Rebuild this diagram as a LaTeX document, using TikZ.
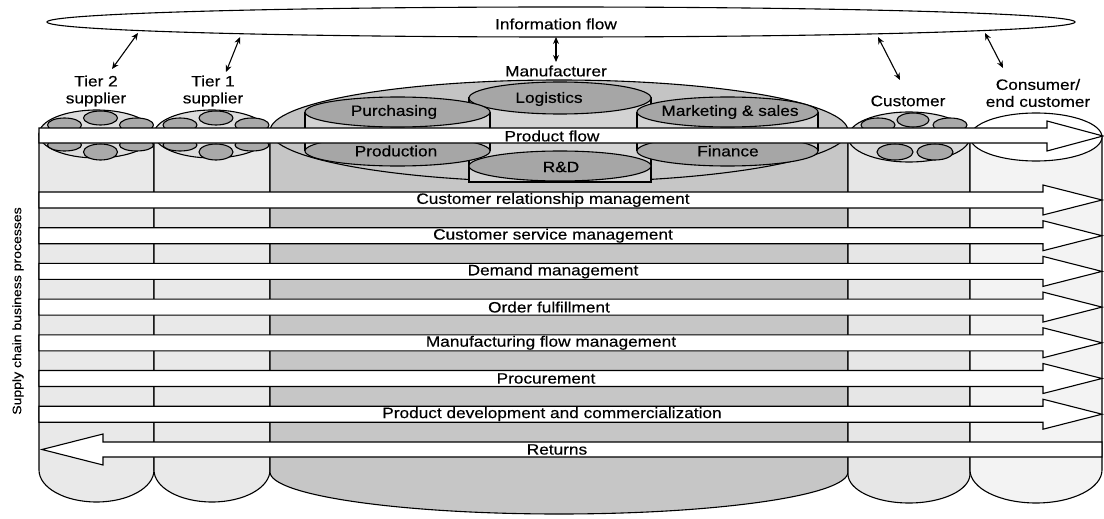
\documentclass[tikz,border=0pt]{standalone}
\usepackage{fontspec}
\setmainfont{Liberation Sans}[FakeStretch=1.15,FakeBold=0.4]
\usetikzlibrary{arrows.meta}
\definecolor{tierbody}{HTML}{E9E9E9}
\definecolor{tiertop}{HTML}{DDDDDD}
\definecolor{small}{HTML}{A9A9A9}
\definecolor{mfrbody}{HTML}{C6C6C6}
\definecolor{mfrtop}{HTML}{C4C4C4}
\definecolor{inner}{HTML}{A6A6A6}
\definecolor{innerbody}{HTML}{D3D3D3}
\definecolor{custbody}{HTML}{E6E6E6}
\definecolor{custtop}{HTML}{DADADA}
\definecolor{consbody}{HTML}{F3F3F3}
\begin{document}
\begin{tikzpicture}[x=1pt,y=-1pt,line width=1.1pt,
  lbl/.style={font=\fontsize{15}{17}\selectfont,inner sep=0pt,align=center},
  biarrow/.style={{Stealth[length=7pt,width=6pt]}-{Stealth[length=7pt,width=6pt]},line width=1.1pt},
  band/.style={draw,fill=white,line width=1.1pt}]
\useasboundingbox (0,0) rectangle (1104,519);

% information flow
\draw[fill=white] (561,22) ellipse[x radius=514,y radius=15];

% column bodies
\draw[fill=tierbody] (39,134) -- (39,470) arc[start angle=180,end angle=0,x radius=57.5,y radius=32] -- (154,134) -- cycle;
\draw[fill=tierbody] (154,134) -- (154,470) arc[start angle=180,end angle=0,x radius=58,y radius=32] -- (270,134) -- cycle;
\draw[fill=mfrbody] (270,131) -- (270,472) arc[start angle=180,end angle=0,x radius=289,y radius=42] -- (848,131) -- cycle;
\draw[fill=custbody] (848,137) -- (848,474) arc[start angle=180,end angle=0,x radius=61,y radius=29] -- (970,137) -- cycle;
\draw[fill=consbody] (970,137) -- (970,470) arc[start angle=180,end angle=0,x radius=66,y radius=33] -- (1102,137) -- cycle;

% top faces
\draw[fill=tiertop] (96.5,134) ellipse[x radius=57.5,y radius=24];
\draw[fill=tiertop] (212,134) ellipse[x radius=58,y radius=24];
\draw[fill=mfrtop] (559,131) ellipse[x radius=289,y radius=51];
\draw[fill=custtop] (909,137) ellipse[x radius=61,y radius=25];
\draw[fill=white] (1036,137) ellipse[x radius=66,y radius=24];

% small ellipses of the suppliers
\foreach \c in {96.5,212}{
  \draw[fill=small] (\c-32,125) ellipse[x radius=17,y radius=7];
  \draw[fill=small] (\c+40,125) ellipse[x radius=17,y radius=7];
  \draw[fill=small] (\c+4,118) ellipse[x radius=17,y radius=7];
  \draw[fill=small] (\c-32,145) ellipse[x radius=17,y radius=6];
  \draw[fill=small] (\c+40,145) ellipse[x radius=17,y radius=6];
  \draw[fill=small] (\c+4,152) ellipse[x radius=17,y radius=8];
}
% small ellipses of the customer
\draw[fill=small] (878,125) ellipse[x radius=17,y radius=7];
\draw[fill=small] (950,125) ellipse[x radius=17,y radius=7];
\draw[fill=small] (913,120) ellipse[x radius=16,y radius=7];
\draw[fill=small] (895,152) ellipse[x radius=18,y radius=8];
\draw[fill=small] (935,152) ellipse[x radius=18,y radius=8];

% manufacturer functions
\draw[fill=innerbody] (469,98) -- (469,166) -- (651,166) -- (651,98) -- cycle;
\draw[fill=innerbody] (469,166) -- (469,182) -- (651,182) -- (651,166);
\draw[fill=inner] (560,166) ellipse[x radius=91,y radius=15];
\draw[fill=inner] (560,98) ellipse[x radius=91,y radius=16];

\fill[innerbody] (305,112) rectangle (490,151);
\draw (305,112) -- (305,151) (490,112) -- (490,151);
\draw[fill=inner] (397.5,151) ellipse[x radius=92.5,y radius=15];
\draw[fill=inner] (397.5,112) ellipse[x radius=92.5,y radius=15];

\fill[innerbody] (637,112) rectangle (818,151);
\draw (637,112) -- (637,151) (818,112) -- (818,151);
\draw[fill=inner] (727.5,151) ellipse[x radius=90.5,y radius=15];
\draw[fill=inner] (727.5,112) ellipse[x radius=90.5,y radius=15];

% product flow
\draw[band] (39,128) -- (1047,128) -- (1047,121) -- (1103,136) -- (1047,151) -- (1047,143) -- (39,143) -- cycle;

% process arrows
\foreach \t in {192,227.7,263.4,299.1,334.8,370.5,406.2}{
  \draw[band] (39,\t) -- (1043,\t) -- (1043,\t-7) -- (1102,\t+8) -- (1043,\t+23) -- (1043,\t+16) -- (39,\t+16) -- cycle;
}
\draw[band] (1102,442) -- (103,442) -- (103,434) -- (42,449.5) -- (103,465) -- (103,457) -- (1102,457) -- cycle;

% labels
\node[lbl] (info) at (556,24) {Information flow};
\node[lbl] (t2) at (96,91) {Tier 2\\supplier};
\node[lbl] (t1) at (213,91) {Tier 1\\supplier};
\node[lbl] (mfr) at (556,71) {Manufacturer};
\node[lbl] (cust) at (908,101) {Customer};
\node[lbl] (cons) at (1038,93) {Consumer/\\end customer};

\node[lbl] (purch) at (394,112) {Purchasing};
\node[lbl] (logi) at (549,99) {Logistics};
\node[lbl] (mkt) at (730,112) {Marketing \& sales};
\node[lbl] (prod) at (396,151) {Production};
\node[lbl] (rd) at (561,167) {R\&D};
\node[lbl] (fin) at (728,151) {Finance};
\node[lbl] (pflow) at (552,136) {Product flow};

\node[lbl] (p1) at (553,200) {Customer relationship management};
\node[lbl] (p2) at (553,235.7) {Customer service management};
\node[lbl] (p3) at (553,271.4) {Demand management};
\node[lbl] (p4) at (549,307.1) {Order fulfillment};
\node[lbl] (p5) at (551,342.8) {Manufacturing flow management};
\node[lbl] (p6) at (546,378.5) {Procurement};
\node[lbl] (p7) at (552,414.2) {Product development and commercialization};
\node[lbl] (p8) at (557,449.5) {Returns};

\node[lbl,rotate=90,font=\fontsize{12.2}{14}\selectfont] (scbp) at (18,311) {Supply chain business processes};

% information links
\coordinate (a1) at (138,33); \coordinate (b1) at (112,69);
\coordinate (a2) at (240,37); \coordinate (b2) at (226,72);
\coordinate (a3) at (556,37); \coordinate (b3) at (556,62);
\coordinate (a4) at (878,37); \coordinate (b4) at (900,80);
\coordinate (a5) at (985,33); \coordinate (b5) at (1003,68);
\foreach \i in {1,...,5}{\draw[biarrow] (a\i) -- (b\i);}
\end{tikzpicture}
\end{document}
